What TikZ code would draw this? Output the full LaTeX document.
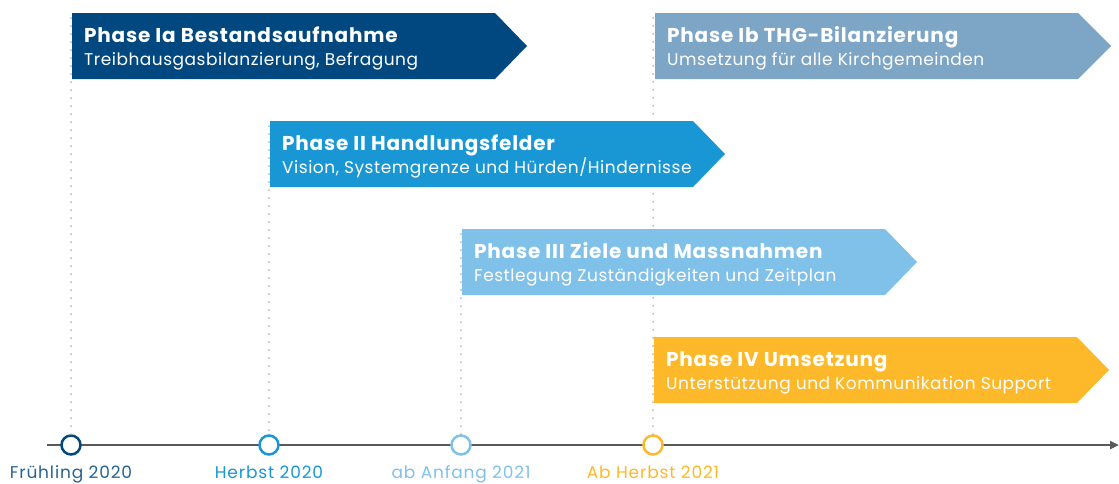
\documentclass[tikz,border=0pt]{standalone}
\usepackage{fontspec}
\setmainfont{Poppins}
\usepackage{xcolor}
\usetikzlibrary{arrows.meta}
\definecolor{phaseIa}{HTML}{00487F}
\definecolor{phaseIb}{HTML}{7DA5C5}
\definecolor{phaseII}{HTML}{1997D4}
\definecolor{phaseIII}{HTML}{7FC1E9}
\definecolor{phaseIV}{HTML}{FDB92A}
\definecolor{axisgray}{HTML}{5A5A5A}
\definecolor{guidegray}{HTML}{B4B4B4}

\begin{document}
\begin{tikzpicture}[x=1pt,y=-1pt]
	\tikzset{phase title/.style={anchor=base west,text=white,inner sep=0pt,font=\fontsize{20}{23}\selectfont\bfseries\addfontfeatures{LetterSpace=4}},
		phase text/.style={anchor=base west,text=white,inner sep=0pt,font=\fontsize{17}{20}\selectfont\addfontfeatures{LetterSpace=3}},
		guide/.style={guidegray,line width=2pt,line cap=round,dash pattern=on 0pt off 8pt},
		milestone/.style={circle,draw,line width=2.5pt,fill=white,minimum size=19pt,inner sep=0pt},
		date/.style={anchor=base,inner sep=0pt,font=\fontsize{17}{20}\selectfont\addfontfeatures{LetterSpace=5}}}
	\useasboundingbox (0,0) rectangle (1119,483);

	% timeline
	\coordinate (axis start) at (47,445);
	\coordinate (axis end) at (1119,445);
	\draw[axisgray,line width=2.5pt,-{Triangle[length=9pt,width=8pt]}] (axis start) -- (axis end);

	% milestones
	\node[milestone,draw=phaseIa] (spring20) at (71,445) {};
	\node[milestone,draw=phaseII] (autumn20) at (269,445) {};
	\node[milestone,draw=phaseIII] (early21) at (461,445) {};
	\node[milestone,draw=phaseIV] (autumn21) at (653,445) {};

	\node[date,text=phaseIa!85!white] (spring20 label) at (71,478) {Frühling 2020};
	\node[date,text=phaseII] (autumn20 label) at (269,478) {Herbst 2020};
	\node[date,text=phaseIII] (early21 label) at (461,478) {ab Anfang 2021};
	\node[date,text=phaseIV] (autumn21 label) at (653,478) {Ab Herbst 2021};

	% guides
	\coordinate (Ia start) at (71,18);
	\coordinate (Ib start) at (653,18);
	\coordinate (II start) at (269,126);
	\coordinate (III start) at (461,234);
	\draw[guide] (Ia start) -- (spring20.north);
	\draw[guide] (II start) -- (autumn20.north);
	\draw[guide] (III start) -- (early21.north);
	\draw[guide] (Ib start) -- (autumn21.north);

	% phases
	\fill[phaseIa] (72,13) -- (495,13) -- (527,46) -- (495,79) -- (72,79) -- cycle;
	\node[phase title] (Ia title) at (84,42) {Phase Ia Bestandsaufnahme};
	\node[phase text] (Ia text) at (84,65) {Treibhausgasbilanzierung, Befragung};

	\fill[phaseIb] (655,13) -- (1078,13) -- (1111,46) -- (1078,79) -- (655,79) -- cycle;
	\node[phase title] (Ib title) at (667,42) {Phase Ib THG-Bilanzierung};
	\node[phase text] (Ib text) at (667,65) {Umsetzung für alle Kirchgemeinden};

	\fill[phaseII] (270,121) -- (693,121) -- (725,154) -- (693,187) -- (270,187) -- cycle;
	\node[phase title] (II title) at (282,150) {Phase II Handlungsfelder};
	\node[phase text] (II text) at (282,173) {Vision, Systemgrenze und Hürden/Hindernisse};

	\fill[phaseIII] (462,229) -- (885,229) -- (917,262) -- (885,295) -- (462,295) -- cycle;
	\node[phase title] (III title) at (474,258) {Phase III Ziele und Massnahmen};
	\node[phase text] (III text) at (474,281) {Festlegung Zuständigkeiten und Zeitplan};

	\fill[phaseIV] (654,337) -- (1077,337) -- (1109,370) -- (1077,403) -- (654,403) -- cycle;
	\node[phase title] (IV title) at (666,366) {Phase IV Umsetzung};
	\node[phase text] (IV text) at (666,389) {Unterstützung und Kommunikation Support};
\end{tikzpicture}
\end{document}
